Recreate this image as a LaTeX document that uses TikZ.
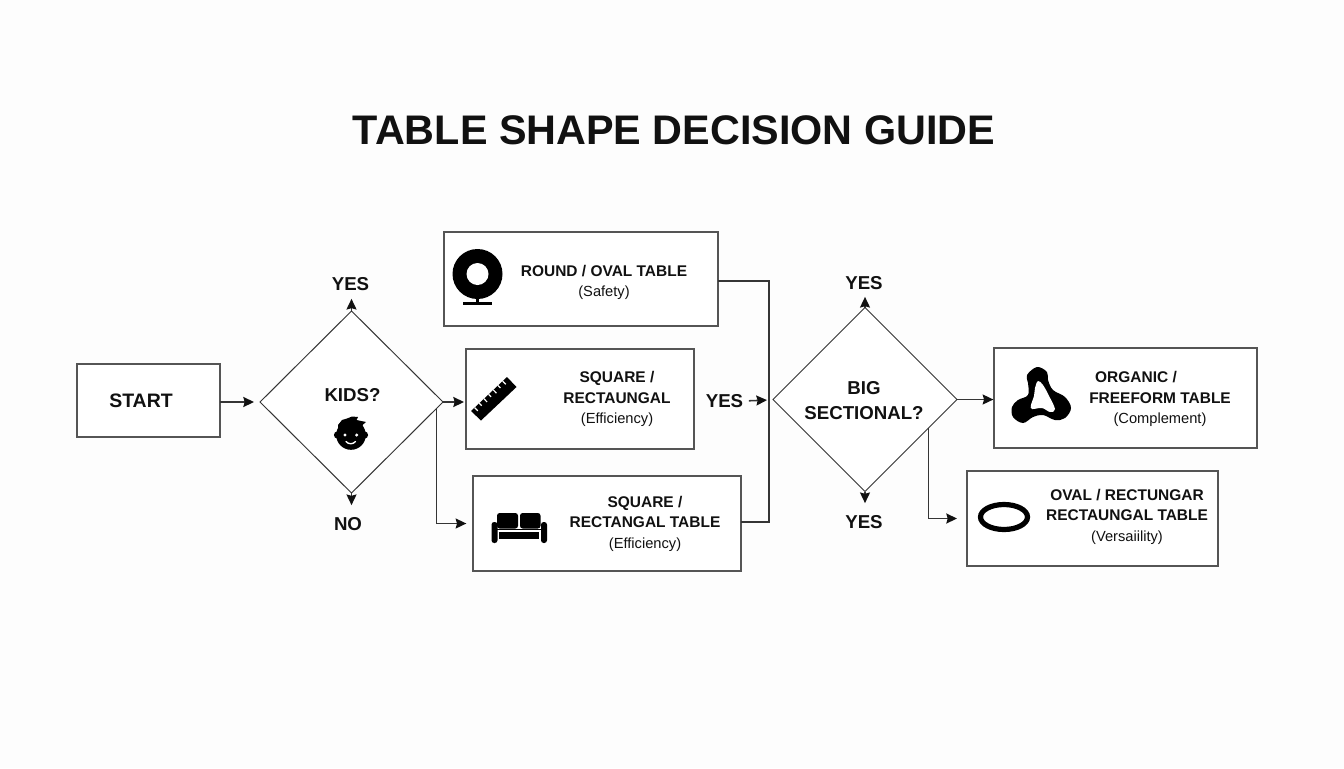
\documentclass[tikz,border=0pt]{standalone}
\usepackage{fontspec}
\setmainfont{Liberation Sans}
\usetikzlibrary{shapes.geometric,arrows.meta,calc}
\definecolor{ink}{HTML}{111111}
\definecolor{boxline}{HTML}{555555}
\definecolor{paper}{HTML}{FDFDFD}
\tikzset{
  boxnode/.style={draw=boxline,line width=.85pt,fill=white,rectangle,inner sep=0,outer sep=0},
  decision/.style={draw=ink!85,line width=.75pt,fill=white,diamond,inner sep=0,outer sep=0},
  conn/.style={draw=ink!85,line width=1.15pt},
  arrowed/.style={conn,-{Stealth[length=8pt,width=7.5pt,inset=1pt,color=ink]}},
  heading/.style={font=\bfseries\fontsize{31}{36}\selectfont,text=ink,inner sep=0},
  lab/.style={font=\bfseries\fontsize{11.6}{15.4}\selectfont,text=ink,inner sep=0,align=center},
  biglab/.style={font=\bfseries\fontsize{14}{18.7}\selectfont,text=ink,inner sep=0,align=center},
  icon/.style={fill=black,draw=none}
}
\newcommand{\subt}[1]{{\fontseries{m}\selectfont\fontsize{11}{15.4}\selectfont #1}}
\begin{document}
\begin{tikzpicture}[x=0.75pt,y=-0.75pt]
\path[fill=paper] (0,0) rectangle (1344,768);
\useasboundingbox (0,0) rectangle (1344,768);
\node[heading] (title) at (674,130) {TABLE SHAPE DECISION GUIDE};
% boxes
\node[boxnode,minimum width=107.25pt,minimum height=54.75pt] (start) at (148.5,400.5) {};
\node[boxnode,minimum width=205.5pt,minimum height=70.5pt] (round) at (581,279) {};
\node[boxnode,minimum width=171pt,minimum height=75pt] (sqa) at (580,399) {};
\node[boxnode,minimum width=201pt,minimum height=71.25pt] (sqb) at (607,523.5) {};
\node[boxnode,minimum width=197.25pt,minimum height=75pt] (org) at (1125.5,398) {};
\node[boxnode,minimum width=188.25pt,minimum height=71.25pt] (oval) at (1092.5,518.5) {};
\node[decision,minimum width=137.25pt,minimum height=136.5pt] (kids) at (351.5,402) {};
\node[decision,minimum width=138pt,minimum height=138pt] (big) at (865,399.5) {};
% texts
\node[biglab,font=\bfseries\fontsize{14.6}{18.7}\selectfont] (tstart) at (141,401) {START};
\node[lab] (tround) at (604,282.5) {ROUND / OVAL TABLE\\\subt{(Safety)}};
\node[lab] (tsqa) at (617,399) {SQUARE /\\RECTAUNGAL\\\subt{(Efficiency)}};
\node[lab] (tsqb) at (645,523.5) {SQUARE /\\RECTANGAL TABLE\\\subt{(Efficiency)}};
\node[lab] (torg) at (1160,399) {ORGANIC /\hspace*{36pt}\\FREEFORM TABLE\\\subt{(Complement)}};
\node[lab] (toval) at (1127,516.5) {OVAL / RECTUNGAR\\RECTAUNGAL TABLE\\\subt{(Versaiility)}};
\node[biglab] (tkids) at (352.5,395) {KIDS?};
\node[biglab] (tbig) at (864,400.5) {BIG\\SECTIONAL?};
\node[biglab] (yesa) at (350.5,284.5) {YES};
\node[biglab] (noa) at (348,524) {NO};
\node[biglab] (yesb) at (864,283) {YES};
\node[biglab] (yesc) at (864,522) {YES};
\node[biglab] (yesd) at (724.5,401) {YES};
% connector helpers
\coordinate (bus) at (769,400);
\coordinate (kb) at ($(kids.east)!0.07!(kids.south)$);
\coordinate (bb) at ($(big.east)!0.31!(big.south)$);
% connectors
\draw[arrowed,shorten >=4.5pt] (start.east |- kids.west) -- (kids.west);
\draw[arrowed,shorten >=1.5pt] (kids.east) -- (kids.east -| sqa.west);
\draw[arrowed,shorten >=5pt] (kb) |- (sqb.west);
\draw[arrowed,shorten >=5.6pt] (kids.north) -- (kids.north |- yesa.south);
\draw[arrowed,shorten >=9pt] (kids.south) -- (kids.south |- noa.north);
\draw[conn] ([yshift=-1.5pt]round.east) -| (bus) |- ([yshift=1.1pt]sqb.east);
\draw[arrowed,shorten <=4pt,shorten >=1.5pt] (yesd.east) -- (bus);
\draw[arrowed,shorten >=.5pt] (big.east) -- (big.east -| org.west);
\draw[arrowed,shorten >=7.5pt] (bb) |- (oval.west);
\draw[arrowed,shorten >=5.25pt] (big.north) -- (big.north |- yesb.south);
\draw[arrowed,shorten >=9pt] (big.south) -- (big.south |- yesc.north);
% icon: round table
\fill[icon] (477.5,274) circle[radius=25];
\fill[white] (477.5,274) circle[radius=11];
\fill[icon] (476,296) rectangle (479,303);
\fill[icon] (463,301.5) rectangle (492,304.5);
% icon: ruler
\fill[icon] (471,411) -- (481,420.5) -- (516.5,387) -- (507,377) -- cycle;
\foreach \t/\l in {.1/4.5,.23/3.5,.36/4.5,.49/3.5,.62/4.5,.75/3.5,.88/4.5}{
  \draw[white,line width=.9pt] ($(471,411)!\t!(507,377)$) -- ++({\l*0.7},{\l*0.72});
}
% icon: sofa
\fill[icon,rounded corners=2pt] (497,513) rectangle (518,528.5);
\fill[icon,rounded corners=2pt] (520,513) rectangle (540.5,528.5);
\fill[icon,rounded corners=2pt] (491.5,522) rectangle (497.5,543);
\fill[icon,rounded corners=2pt] (541,522) rectangle (547,543);
\fill[icon] (497,529) rectangle (541,530);
\fill[icon] (499,532) rectangle (539,538.5);
% icon: face
\fill[icon] (351,435) circle[radius=14.8];
\fill[icon] (337.5,435) circle[radius=3.6];
\fill[icon] (364.5,435) circle[radius=3.6];
\fill[icon] (338,431) -- (338,425) -- (342,420) -- (347,418.5) -- (352,416.5) -- (358,417) -- (356.5,420) -- (366,422) -- (362.5,425) -- (365,432) -- cycle;
\fill[white] (345,435) circle[radius=1.7];
\fill[white] (356.7,435) circle[radius=1.7];
\draw[white,line width=1pt,line cap=round] (346,441.5) .. controls (348.5,444.5) and (353,444.5) .. (355.5,441.5);
% icon: organic
\fill[icon] plot[smooth cycle,tension=.6] coordinates {(1037,367) (1047,372) (1048,380) (1053,390) (1065,397) (1071,408) (1065,418) (1055,420) (1043,415) (1033,417) (1023,423) (1013,417) (1012,407) (1018,400) (1028,395) (1028,383) (1027,375)};
\fill[white] plot[smooth cycle,tension=.6] coordinates {(1038,381) (1043,385) (1048,394) (1055,409) (1050,412) (1042,408) (1032,409) (1031,405) (1034,396) (1035,388)};
% icon: oval
\draw[black,line width=3.9pt] (1004,517) ellipse[x radius=23.5,y radius=12.5];
\end{tikzpicture}
\end{document}
